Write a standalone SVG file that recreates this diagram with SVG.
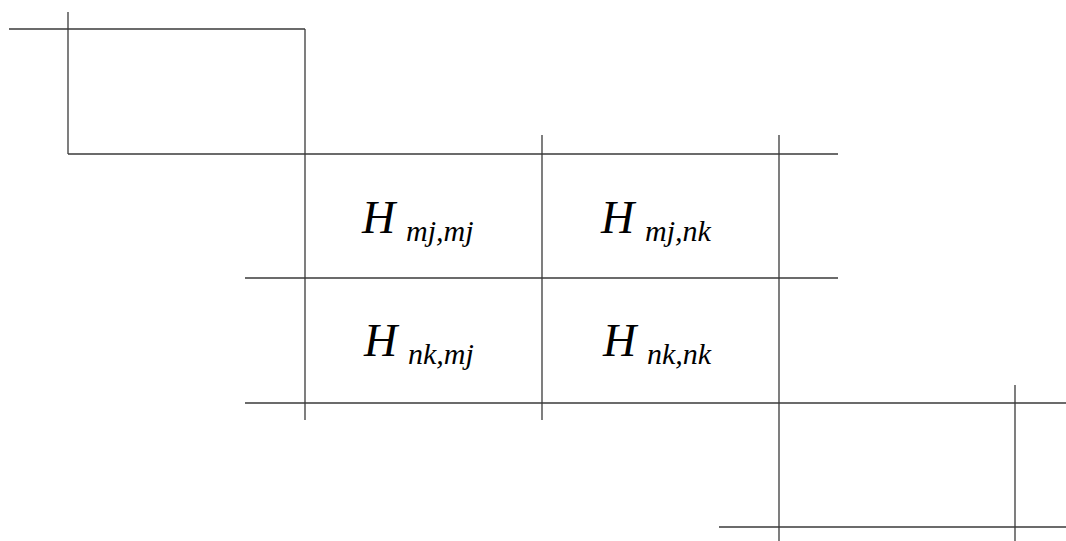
<svg xmlns="http://www.w3.org/2000/svg" width="1066" height="541" viewBox="0 0 1066 541">
<style>
.ln{stroke:#3a3a3a;stroke-width:1.3;fill:none}
.H{font-family:"Liberation Serif",serif;font-style:italic;font-size:46px;fill:#000}
.s{font-size:30px}
</style>
<rect width="1066" height="541" fill="#fff"/>
<g id="connectors">
<line class="ln" x1="9" y1="29" x2="305" y2="29"/>
<line class="ln" x1="68" y1="12" x2="68" y2="154"/>
<line class="ln" x1="305" y1="29" x2="305" y2="420"/>
<line class="ln" x1="68" y1="154" x2="838" y2="154"/>
<line class="ln" x1="245" y1="278" x2="838" y2="278"/>
<line class="ln" x1="245" y1="403" x2="1066" y2="403"/>
<line class="ln" x1="542" y1="135" x2="542" y2="420"/>
<line class="ln" x1="779" y1="135" x2="779" y2="541"/>
<line class="ln" x1="1015" y1="385" x2="1015" y2="541"/>
<line class="ln" x1="719" y1="527" x2="1066" y2="527"/>
</g>
<g id="h11"><text class="H" x="362" y="233">H<tspan class="s" x="406" y="241">mj,mj</tspan></text></g>
<g id="h12"><text class="H" x="601" y="233">H<tspan class="s" x="645" y="241">mj,nk</tspan></text></g>
<g id="h21"><text class="H" x="364" y="356">H<tspan class="s" x="408" y="364">nk,mj</tspan></text></g>
<g id="h22"><text class="H" x="603" y="356">H<tspan class="s" x="647" y="364">nk,nk</tspan></text></g>
</svg>
